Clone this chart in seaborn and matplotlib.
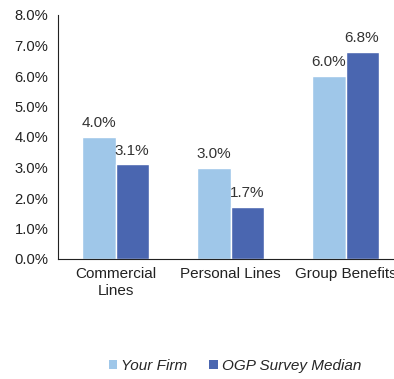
import matplotlib
matplotlib.use("Agg")
import matplotlib.pyplot as plt
import seaborn as sns
import pandas as pd
from matplotlib.patches import Patch

categories = ["Commercial\nLines", "Personal Lines", "Group Benefits"]
series = ["Your Firm", "OGP Survey Median"]
your_firm = [4.0, 3.0, 6.0]
ogp_median = [3.1, 1.7, 6.8]
colors = ["#9FC7E9", "#4A66B0"]

df = pd.DataFrame({
    "cat": categories * 2,
    "series": [series[0]] * 3 + [series[1]] * 3,
    "val": your_firm + ogp_median,
})

sns.set_style("white")
plt.rcParams["font.family"] = ["Liberation Sans", "DejaVu Sans"]

fig = plt.figure(figsize=(3.94, 3.79), dpi=100)
ax = fig.add_axes([58 / 394, 1 - 259 / 379, (403 - 58) / 394, (259 - 15) / 379])

sns.barplot(data=df, x="cat", y="val", hue="series", palette=colors,
            width=0.574, ax=ax, legend=False, saturation=1)

for cont in ax.containers:
    ax.bar_label(cont, labels=[f"{v:.1f}%" for v in cont.datavalues],
                 padding=5, fontsize=11, color="#333333")

ax.set_ylim(0, 8)
ax.set_xlim(-0.5, 2.5)
ax.set_yticks(range(0, 9))
ax.set_yticklabels([f"{v:.1f}%" for v in range(0, 9)], fontsize=10.6, color="#222222")
ax.tick_params(axis="x", labelsize=11, length=0, pad=6, colors="#222222")
ax.set_xticks([0.5, 1.5], minor=True)
ax.tick_params(axis="x", which="minor", length=4, color="#aaaaaa")
ax.tick_params(axis="y", length=4, color="#222222", pad=3)
ax.set_xlabel("")
ax.set_ylabel("")
for s in ["top", "right"]:
    ax.spines[s].set_visible(False)
ax.spines["left"].set_color("#222222")
ax.spines["bottom"].set_color("#222222")

handles = [Patch(facecolor=c, edgecolor="none") for c in colors]
fig.legend(handles, series, loc="center", bbox_to_anchor=(235 / 394, 1 - 366 / 379),
           ncol=2, frameon=False, prop={"style": "italic", "size": 11},
           handlelength=0.55, handleheight=0.55, handletextpad=0.3, columnspacing=1.4)

fig.savefig("out.png", dpi=100)
